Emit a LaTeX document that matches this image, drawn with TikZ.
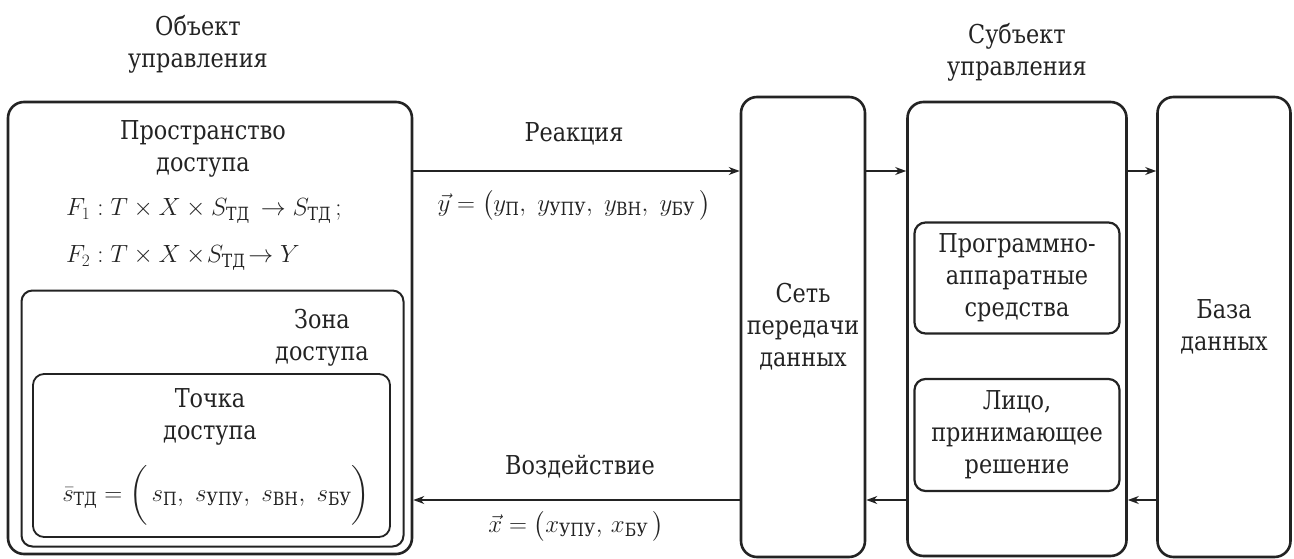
\documentclass[tikz,border=0pt]{standalone}
\usepackage{amsmath}
\usepackage{fontspec}
\setmainfont{DejaVu Serif}
\newfontfamily\tnr{DejaVu Serif}[FakeStretch=0.86]
\usetikzlibrary{arrows.meta,calc}
\definecolor{ink}{RGB}{35,35,35}
\tikzset{
  box/.style={draw=ink, line width=2.6pt, rounded corners=16pt, inner sep=0pt},
  sbox/.style={draw=ink, line width=2pt, rounded corners=11pt, inner sep=0pt},
  txt/.style={text=ink, align=center, inner sep=0pt, font=\tnr\fontsize{26}{32}\selectfont},
  arr/.style={draw=ink, line width=1.4pt, -{Stealth[length=11pt,width=8pt]}},
}
\newcommand{\cy}[1]{\text{\tnr #1}}
\begin{document}
\begin{tikzpicture}[x=1pt,y=-1pt]
\useasboundingbox (0,0) rectangle (1294,559);
% titles
\node[txt] (t1) at (198,44) {Объект\\управления};
\node[txt] (t2) at (1017,52) {Субъект\\управления};
% left nested boxes
\node[box, minimum width=404pt, minimum height=452pt] (obj) at (210,328) {};
\node[sbox, minimum width=382pt, minimum height=256pt] (zone) at (212.5,418.5) {};
\node[sbox, line width=1.8pt, minimum width=357pt, minimum height=163pt] (point) at (211.5,455.5) {};
\node[txt] (prost) at (203,149) {Пространство\\доступа};
\node[txt, anchor=west] (f1) at (66,211) {$F_1 : T \times X \times S_{\cy{ТД}} \,\to S_{\cy{ТД}}\,;$};
\node[txt, anchor=west] (f2) at (66,258) {$F_2 : T \times X \times\! S_{\cy{ТД}}\!\to Y$};
\node[txt] (zt) at (322,338) {Зона\\доступа};
\node[txt] (pt) at (210,417) {Точка\\доступа};
\node[txt] (sf) at (216,495) {$\bar{s}_{\cy{ТД}} = \biggl(\, s_{\cy{П}},\ s_{\cy{УПУ}},\ s_{\cy{ВН}},\ s_{\cy{БУ}} \biggr)$};
% right boxes
\node[box, minimum width=124pt, minimum height=460pt] (net) at (803,327) {};
\node[txt] at (net) {Сеть\\передачи\\данных};
\node[box, minimum width=219pt, minimum height=454pt] (subj) at (1017,329) {};
\node[sbox, line width=2.2pt, minimum width=205pt, minimum height=111pt] (hw) at (1017,278) {};
\node[txt] at (hw) {Программно-\\аппаратные\\средства};
\node[sbox, line width=2.2pt, minimum width=205pt, minimum height=112pt] (dm) at (1017,435) {};
\node[txt] at (dm) {Лицо,\\принимающее\\решение};
\node[box, minimum width=133pt, minimum height=460pt] (db) at (1224,327) {};
\node[txt] at (db) {База\\данных};
% connectors
\coordinate (top) at (0,171);
\coordinate (bot) at (0,500);
\draw[arr] (obj.east |- top) -- (net.west |- top);
\draw[arr] (net.east |- top) -- (subj.west |- top);
\draw[arr] (subj.east |- top) -- (db.west |- top);
\draw[arr] (db.west |- bot) -- (subj.east |- bot);
\draw[arr] (subj.west |- bot) -- (net.east |- bot);
\draw[arr] (net.west |- bot) -- (obj.east |- bot);
% arrow labels
\node[txt] (re) at (574,134) {Реакция};
\node[txt] (yf) at (574,205) {$\vec{y} = \bigl(y_{\cy{П}},\ y_{\cy{УПУ}},\ y_{\cy{ВН}},\ y_{\cy{БУ}}\,\bigr)$};
\node[txt] (vz) at (580,467) {Воздействие};
\node[txt] (xf) at (576,526) {$\vec{x} = \bigl(x_{\cy{УПУ}},\, x_{\cy{БУ}}\,\bigr)$};
\end{tikzpicture}
\end{document}
